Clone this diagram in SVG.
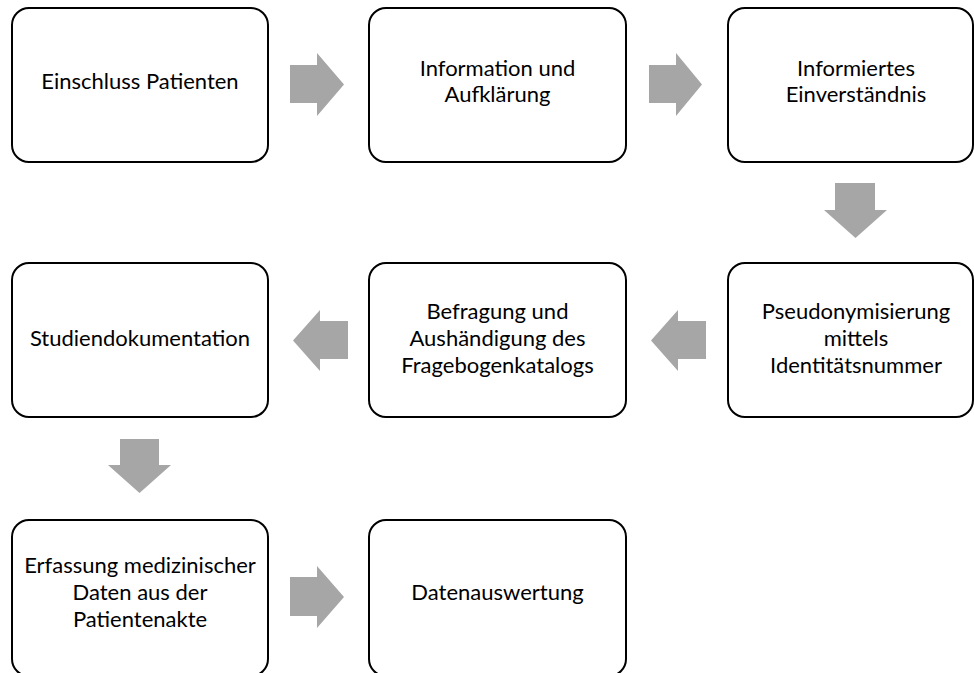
<svg xmlns="http://www.w3.org/2000/svg" width="974" height="673" viewBox="0 0 974 673">
<style>
.box{fill:#fff;stroke:#000;stroke-width:2}
.t{font-family:Lato,"Open Sans","Liberation Sans",sans-serif;font-size:22px;fill:#000;text-anchor:middle}
.arr{fill:#A6A6A6}
</style>
<rect width="974" height="673" fill="#fff"/>
<g id="connectors">
<polygon class="arr" points="290,65 317,65 317,53 344,84.5 317,116 317,103 290,103"/>
<polygon class="arr" points="649,65 676,65 676,53 702,84.5 676,116 676,103 649,103"/>
<polygon class="arr" points="835,183 875,183 875,210 887,210 855.5,238 824,210 835,210"/>
<polygon class="arr" points="706,321 678,321 678,310 651,340.5 678,371 678,359 706,359"/>
<polygon class="arr" points="348,321 320,321 320,310 293,340.5 320,371 320,359 348,359"/>
<polygon class="arr" points="120,439 159,439 159,465 171,465 139.5,493 108,465 120,465"/>
<polygon class="arr" points="290,577 317,577 317,566 344,597 317,628 317,616 290,616"/>
</g>
<g id="n1"><rect class="box" x="12" y="8" width="256" height="154" rx="17"/><text class="t" x="140" y="89">Einschluss Patienten</text></g>
<g id="n2"><rect class="box" x="369" y="8" width="257" height="154" rx="17"/><text class="t" x="497.5" y="76">Information und</text><text class="t" x="497.5" y="102">Aufklärung</text></g>
<g id="n3"><rect class="box" x="728" y="8" width="245" height="154" rx="17"/><text class="t" x="856" y="76">Informiertes</text><text class="t" x="856" y="102">Einverständnis</text></g>
<g id="n4"><rect class="box" x="728" y="263" width="245" height="154" rx="17"/><text class="t" x="856" y="319">Pseudonymisierung</text><text class="t" x="856" y="346">mittels</text><text class="t" x="856" y="373">Identitätsnummer</text></g>
<g id="n5"><rect class="box" x="369" y="263" width="257" height="154" rx="17"/><text class="t" x="497.5" y="319">Befragung und</text><text class="t" x="497.5" y="346">Aushändigung des</text><text class="t" x="497.5" y="373">Fragebogenkatalogs</text></g>
<g id="n6"><rect class="box" x="12" y="263" width="256" height="154" rx="17"/><text class="t" x="140" y="346">Studiendokumentation</text></g>
<g id="n7"><rect class="box" x="12" y="520" width="256" height="156" rx="17"/><text class="t" x="140" y="573">Erfassung medizinischer</text><text class="t" x="140" y="600">Daten aus der</text><text class="t" x="140" y="627">Patientenakte</text></g>
<g id="n8"><rect class="box" x="369" y="520" width="257" height="156" rx="17"/><text class="t" x="497.5" y="600">Datenauswertung</text></g>
</svg>
